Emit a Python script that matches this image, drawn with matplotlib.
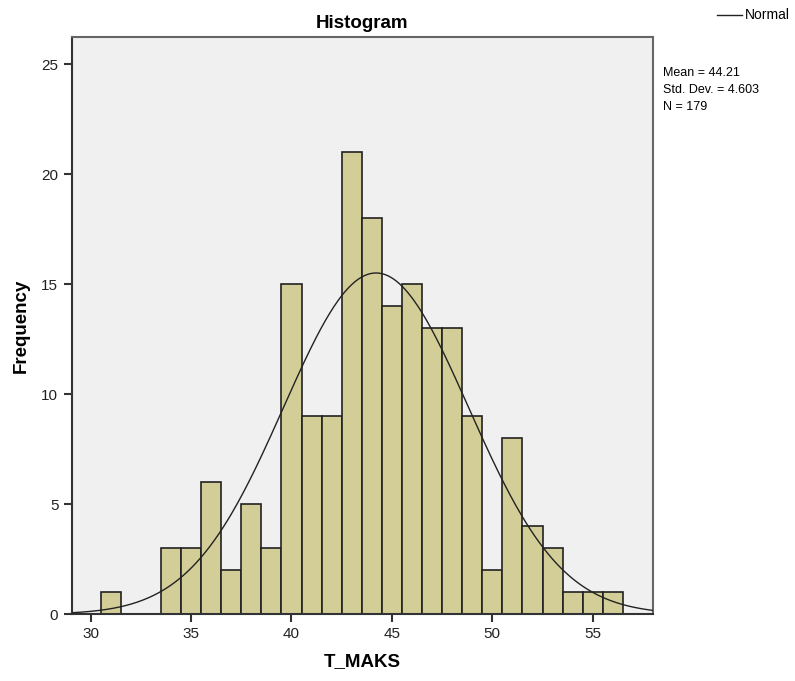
import numpy as np
import matplotlib
matplotlib.use("Agg")
import matplotlib.pyplot as plt

plt.rcParams['font.family'] = ['Liberation Sans', 'DejaVu Sans']

# bin centres (width 1) and counts
bin_centers = [31, 32, 33, 34, 35, 36, 37, 38, 39, 40, 41, 42, 43, 44,
               45, 46, 47, 48, 49, 50, 51, 52, 53, 54, 55, 56]
counts = [1, 0, 0, 3, 3, 6, 2, 5, 3, 15, 9, 9, 21, 18,
          14, 15, 13, 13, 9, 2, 8, 4, 3, 1, 1, 1]
mean = 44.21
std_dev = 4.603
n = 179
x_ticks = [30, 35, 40, 45, 50, 55]
y_ticks = [0, 5, 10, 15, 20, 25]

fig = plt.figure(figsize=(7.95, 6.81), dpi=100)
ax = fig.add_axes([0.090, 0.098, 0.7314, 0.848])
ax.set_facecolor('#F0F0F0')

ax.bar(bin_centers, counts, width=1.0, color='#D3CE98',
       edgecolor='#222222', linewidth=1.2, zorder=2)

# normal curve scaled to counts
xs = np.linspace(29.05, 58.0, 400)
ys = n * 1.0 / (std_dev * np.sqrt(2 * np.pi)) * np.exp(-0.5 * ((xs - mean) / std_dev) ** 2)
ax.plot(xs, ys, color='#222222', linewidth=1.0, zorder=3)

ax.set_xlim(29.05, 58.0)
ax.set_ylim(0, 26.25)
ax.set_xticks(x_ticks)
ax.set_yticks(y_ticks)
ax.tick_params(direction='out', length=6, width=1.5, color='#333333',
               labelsize=11, labelcolor='#222222')
for s in ['left', 'bottom']:
    ax.spines[s].set_color('#333333')
    ax.spines[s].set_linewidth(1.5)
for s in ['top', 'right']:
    ax.spines[s].set_color('#666666')
    ax.spines[s].set_linewidth(1.5)

ax.set_title('Histogram', fontsize=13.5, fontweight='bold', pad=6)
ax.set_xlabel('T_MAKS', fontsize=13.5, fontweight='bold')
ax.set_ylabel('Frequency', fontsize=13.5, fontweight='bold')
ax.xaxis.set_label_coords(0.5, -0.068)
ax.yaxis.set_label_coords(-0.072, 0.5)

# legend entry and stats at the right
fig.lines.append(plt.Line2D([717 / 795, 742 / 795], [1 - 15 / 681, 1 - 15 / 681],
                            transform=fig.transFigure, color='#222222', linewidth=1.0))
fig.text(745 / 795, 1 - 15 / 681, 'Normal', fontsize=10, va='center', ha='left')
fig.text(663 / 795, 1 - 67 / 681,
         'Mean = %.2f\nStd. Dev. = %.3f\nN = %d' % (mean, std_dev, n),
         fontsize=9, va='top', ha='left', linespacing=1.55)

fig.savefig('out.png', dpi=100)
